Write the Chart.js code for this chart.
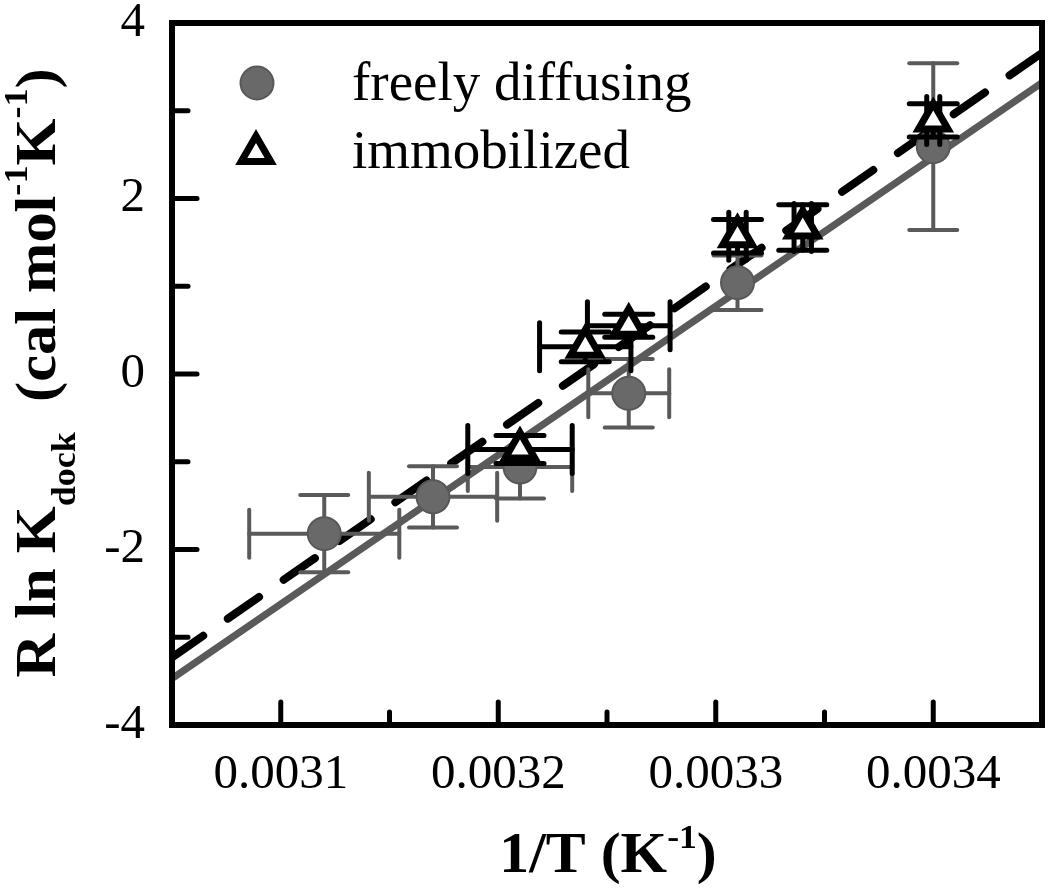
<!DOCTYPE html>
<html lang="en">
<head>
<meta charset="UTF-8">
<title>R ln Kdock vs 1/T</title>
<script src="https://cdn.jsdelivr.net/npm/chart.js"></script>
<style>
  body { margin: 0; background: #fff; }
  canvas { display: block; }
</style>
</head>
<body>
<canvas id="chart" width="1050" height="893"></canvas>
<script>
// freely diffusing (gray circles)
const freeX = [0.00312, 0.00317, 0.00321, 0.00326, 0.00331, 0.00340];
const freeY = [-1.82, -1.40, -1.06, -0.22, 1.04, 2.59];
const freeXErr = [0.0000345, 0.0000295, 0.000024, 0.0000186, 0, 0];
const freeYErr = [0.44, 0.35, 0.36, 0.39, 0.31, 0.95];

// immobilized (open triangles)
const immX = [0.00321, 0.00324, 0.00326, 0.00331, 0.00334, 0.00340];
const immY = [-0.86, 0.31, 0.55, 1.57, 1.67, 2.89];
const immXErr = [0.000024, 0.000021, 0.000019, 0.000004, 0.000004, 0.000003];
const immYErr = [0.16, 0.17, 0.13, 0.19, 0.26, 0.19];

// linear fits, read at the two axis limits
const fitX = [0.00305, 0.00345];
const fitFree = [-3.47, 3.32];
const fitImm = [-3.23, 3.66];

const xTicks = [0.0031, 0.0032, 0.0033, 0.0034];
const xMinor = [0.00315, 0.00325, 0.00335];
const yTicks = [-4, -2, 0, 2, 4];
const yMinor = [-3, -1, 1, 3];

const GRAY = '#5a5a5a';
const SERIF = '"Liberation Serif", "Times New Roman", serif';

function pts(xs, ys) {
    return xs.map((x, i) => ({ x: x, y: ys[i] }));
}

function seg(ctx, x1, y1, x2, y2) {
    ctx.beginPath();
    ctx.moveTo(x1, y1);
    ctx.lineTo(x2, y2);
    ctx.stroke();
}

// error bars go under their own markers
const errorBars = {
    id: 'errorBars',
    beforeDatasetDraw(chart, args) {
        const ds = chart.data.datasets[args.index];
        if (!ds.xErr) return;
        const ctx = chart.ctx, sx = chart.scales.x, sy = chart.scales.y;
        const cap = 24;
        ctx.save();
        ctx.strokeStyle = ds.errColor;
        ctx.lineWidth = ds.errWidth;
        ctx.lineCap = 'round';
        ds.data.forEach((p, i) => {
            const px = sx.getPixelForValue(p.x), py = sy.getPixelForValue(p.y);
            if (ds.yErr[i]) {
                const y1 = sy.getPixelForValue(p.y + ds.yErr[i]);
                const y2 = sy.getPixelForValue(p.y - ds.yErr[i]);
                seg(ctx, px, y1, px, y2);
                seg(ctx, px - cap, y1, px + cap, y1);
                seg(ctx, px - cap, y2, px + cap, y2);
            }
            if (ds.xErr[i]) {
                const x1 = sx.getPixelForValue(p.x - ds.xErr[i]);
                const x2 = sx.getPixelForValue(p.x + ds.xErr[i]);
                seg(ctx, x1, py, x2, py);
                seg(ctx, x1, py - cap, x1, py + cap);
                seg(ctx, x2, py - cap, x2, py + cap);
            }
        });
        ctx.restore();
    }
};

// text with sub/superscripts, optionally rotated
function richText(ctx, parts, x, y, angle, stretch) {
    ctx.save();
    ctx.translate(x, y);
    ctx.rotate(angle);
    ctx.scale(stretch, 1);
    ctx.fillStyle = '#000';
    ctx.textBaseline = 'alphabetic';
    ctx.textAlign = 'left';
    let total = 0;
    parts.forEach(p => {
        ctx.font = 'bold ' + p.size + 'px ' + SERIF;
        p.w = ctx.measureText(p.text).width;
        total += p.w;
    });
    let cx = -total / 2;
    parts.forEach(p => {
        ctx.font = 'bold ' + p.size + 'px ' + SERIF;
        ctx.fillText(p.text, cx, p.dy);
        cx += p.w;
    });
    ctx.restore();
}

const decorations = {
    id: 'decorations',
    afterDraw(chart) {
        const ctx = chart.ctx, a = chart.chartArea;
        const sx = chart.scales.x, sy = chart.scales.y;
        ctx.save();
        ctx.strokeStyle = '#000';
        ctx.lineCap = 'round';
        ctx.lineWidth = 5;
        // inward ticks on left and bottom
        xTicks.forEach(v => { const p = sx.getPixelForValue(v); seg(ctx, p, a.bottom, p, a.bottom - 23); });
        xMinor.forEach(v => { const p = sx.getPixelForValue(v); seg(ctx, p, a.bottom, p, a.bottom - 13); });
        yTicks.forEach(v => { const p = sy.getPixelForValue(v); seg(ctx, a.left, p, a.left + 25, p); });
        yMinor.forEach(v => { const p = sy.getPixelForValue(v); seg(ctx, a.left, p, a.left + 16, p); });
        // frame
        ctx.lineWidth = 6;
        ctx.lineCap = 'butt';
        ctx.strokeRect(a.left, a.top, a.right - a.left, a.bottom - a.top);

        // legend
        const dsImm = chart.data.datasets[0], dsFree = chart.data.datasets[1];
        ctx.beginPath();
        ctx.arc(257, 83, 16.5, 0, Math.PI * 2);
        ctx.fillStyle = dsFree.backgroundColor;
        ctx.fill();
        ctx.lineWidth = dsFree.borderWidth;
        ctx.strokeStyle = dsFree.borderColor;
        ctx.stroke();

        const r = 17, tx = 256, ty = 153;
        ctx.beginPath();
        ctx.moveTo(tx, ty - r);
        ctx.lineTo(tx + r * Math.sin(2 * Math.PI / 3), ty - r * Math.cos(2 * Math.PI / 3));
        ctx.lineTo(tx + r * Math.sin(4 * Math.PI / 3), ty - r * Math.cos(4 * Math.PI / 3));
        ctx.closePath();
        ctx.fillStyle = dsImm.backgroundColor;
        ctx.fill();
        ctx.lineWidth = dsImm.borderWidth;
        ctx.strokeStyle = dsImm.borderColor;
        ctx.stroke();

        ctx.fillStyle = '#000';
        ctx.font = '55px ' + SERIF;
        ctx.textAlign = 'left';
        ctx.textBaseline = 'alphabetic';
        ctx.fillText(dsFree.label, 352, 100);
        ctx.fillText(dsImm.label, 352, 168);
        ctx.restore();

        // axis titles
        richText(ctx, [
            { text: 'R ln K', size: 57, dy: 0 },
            { text: 'dock', size: 34, dy: 20 },
            { text: '  (cal mol', size: 57, dy: 0 },
            { text: '-1', size: 34, dy: -28 },
            { text: 'K', size: 57, dy: 0 },
            { text: '-1', size: 34, dy: -28 },
            { text: ')', size: 57, dy: 0 }
        ], 55, 373, -Math.PI / 2, 1.06);
        richText(ctx, [
            { text: '1/T (K', size: 57, dy: 0 },
            { text: '-1', size: 34, dy: -24 },
            { text: ')', size: 57, dy: 0 }
        ], 608, 872, 0, 1.05);
    }
};

new Chart(document.getElementById('chart').getContext('2d'), {
    type: 'scatter',
    data: {
        datasets: [
            {
                label: 'immobilized',
                data: pts(immX, immY),
                pointStyle: 'triangle',
                pointRadius: 17,
                backgroundColor: '#ffffff',
                borderColor: '#000000',
                borderWidth: 7,
                xErr: immXErr, yErr: immYErr, errColor: '#000000', errWidth: 5,
                order: 1
            },
            {
                label: 'freely diffusing',
                data: pts(freeX, freeY),
                pointStyle: 'circle',
                pointRadius: 16.5,
                backgroundColor: '#696969',
                borderColor: '#585858',
                borderWidth: 2,
                xErr: freeXErr, yErr: freeYErr, errColor: GRAY, errWidth: 4,
                order: 2
            },
            {
                label: 'immobilized fit',
                data: pts(fitX, fitImm),
                showLine: true,
                borderColor: '#000000',
                borderWidth: 8,
                borderDash: [38, 30],
                borderCapStyle: 'round',
                pointRadius: 0,
                order: 3
            },
            {
                label: 'freely diffusing fit',
                data: pts(fitX, fitFree),
                showLine: true,
                borderColor: GRAY,
                borderWidth: 7,
                pointRadius: 0,
                order: 4
            }
        ]
    },
    options: {
        responsive: false,
        animation: false,
        events: [],
        devicePixelRatio: 1,
        layout: { autoPadding: false, padding: { top: 23, right: 8, left: 0, bottom: 0 } },
        plugins: { legend: { display: false }, tooltip: { enabled: false } },
        scales: {
            x: {
                type: 'linear',
                min: 0.00305,
                max: 0.00345,
                afterBuildTicks: s => { s.ticks = xTicks.map(v => ({ value: v })); },
                afterFit: s => { s.height = 168; s.paddingLeft = 0; s.paddingRight = 0; },
                grid: { display: false, drawTicks: false },
                border: { display: false },
                ticks: {
                    padding: 26,
                    color: '#000',
                    font: { family: SERIF, size: 49, lineHeight: 1 },
                    callback: v => v.toFixed(4)
                }
            },
            y: {
                min: -4,
                max: 4,
                afterBuildTicks: s => { s.ticks = yTicks.map(v => ({ value: v })); },
                afterFit: s => { s.width = 172; s.paddingTop = 0; s.paddingBottom = 0; },
                grid: { display: false, drawTicks: false },
                border: { display: false },
                ticks: {
                    padding: 27,
                    color: '#000',
                    font: { family: SERIF, size: 49, lineHeight: 1 },
                    callback: v => String(v)
                }
            }
        }
    },
    plugins: [errorBars, decorations]
});
</script>
</body>
</html>
